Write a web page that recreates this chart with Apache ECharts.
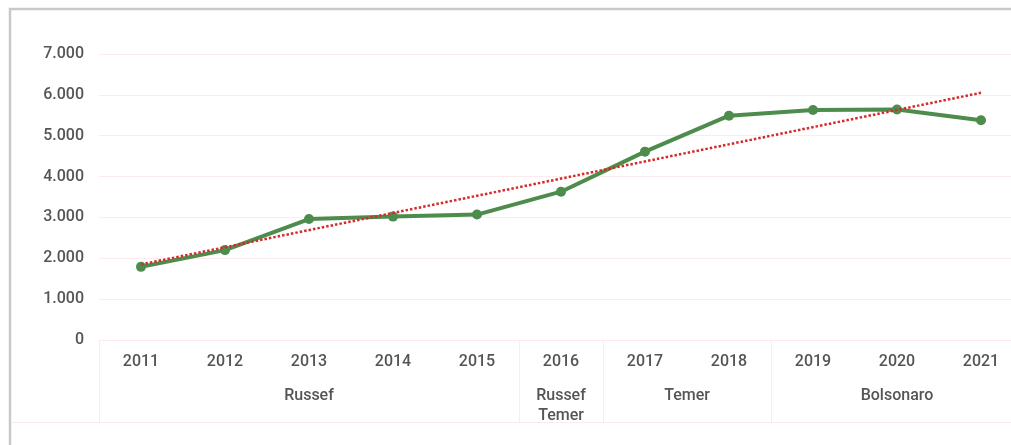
<!DOCTYPE html>
<html>
<head>
<meta charset="utf-8">
<script src="https://cdn.jsdelivr.net/npm/echarts@6/dist/echarts.min.js"></script>
<style>
    html, body { margin: 0; padding: 0; background: #fff; overflow: hidden; width: 1011px; height: 445px; }
    /* o gráfico original está cortado à direita, por isso a área é mais larga que a janela */
    #chart { width: 1024px; height: 445px; }
</style>
</head>
<body>
<div id="chart"></div>
<script>
// anos e valores
const years = ['2011', '2012', '2013', '2014', '2015', '2016', '2017', '2018', '2019', '2020', '2021'];
const values = [1790, 2200, 2960, 3020, 3070, 3630, 4610, 5490, 5630, 5640, 5380];
// linha de tendência (início e fim)
const trendEnds = [1850, 6050];
// mandatos e quantos anos cada um cobre
const groupNames = ['Russef', 'Russef\nTemer', 'Temer', 'Bolsonaro'];
const groupSpans = [5, 1, 2, 3];
const yTicks = [0, 1000, 2000, 3000, 4000, 5000, 6000, 7000];

const textColor = '#555555';
const gridColor = '#fcebea';
const font = 'Roboto, "Noto Sans", sans-serif';
const labelStyle = { color: textColor, fontSize: 16, fontWeight: 500, fontFamily: font };

// limites e centros dos grupos no eixo secundário
const bounds = [0];
groupSpans.forEach(s => bounds.push(bounds[bounds.length - 1] + s));
const centers = groupSpans.map((s, i) => bounds[i] + s / 2);

const trendData = years.map((y, i) => i === 0 ? trendEnds[0] : (i === years.length - 1 ? trendEnds[1] : null));

const chart = echarts.init(document.getElementById('chart'));
chart.setOption({
    backgroundColor: '#fff',
    animation: false,
    textStyle: { fontFamily: font },
    grid: { left: 99, top: 54, bottom: 105, right: 1, containLabel: false },
    xAxis: [{
        type: 'category',
        data: years,
        position: 'bottom',
        axisLine: { lineStyle: { color: gridColor, width: 1 } },
        axisTick: { show: false },
        axisLabel: { ...labelStyle, margin: 14 }
    }, {
        type: 'value',
        min: 0,
        max: years.length,
        position: 'bottom',
        axisLine: { show: false },
        splitLine: { show: false },
        axisTick: {
            show: true,
            customValues: bounds,
            length: 82,
            lineStyle: { color: gridColor, width: 1 }
        },
        axisLabel: {
            ...labelStyle,
            customValues: centers,
            lineHeight: 20,
            margin: 46,
            formatter: v => groupNames[centers.indexOf(v)] || ''
        }
    }],
    yAxis: {
        type: 'value',
        min: 0,
        max: 7000,
        interval: 1000,
        axisLine: { show: false },
        axisTick: { show: false },
        axisLabel: {
            ...labelStyle,
            margin: 15,
            formatter: v => yTicks.includes(v) ? v.toLocaleString('pt-BR') : ''
        },
        splitLine: { lineStyle: { color: gridColor, width: 1 } }
    },
    graphic: [{
        type: 'rect',
        shape: { x: 10, y: 9, width: 1100, height: 500 },
        style: { fill: 'none', stroke: '#c9c9c9', lineWidth: 2.5 },
        silent: true
    }, {
        type: 'line',
        shape: { x1: 11, y1: 422.5, x2: 1024, y2: 422.5 },
        style: { stroke: gridColor, lineWidth: 1 },
        silent: true
    }],
    series: [{
        type: 'line',
        data: values,
        symbol: 'circle',
        symbolSize: 10,
        lineStyle: { color: '#4d8c4d', width: 4 },
        itemStyle: { color: '#4d8c4d' },
        z: 2
    }, {
        type: 'line',
        data: trendData,
        connectNulls: true,
        symbol: 'none',
        lineStyle: { color: '#d42b2b', width: 2.5, type: [2.5, 2] },
        z: 3
    }]
});
</script>
</body>
</html>
